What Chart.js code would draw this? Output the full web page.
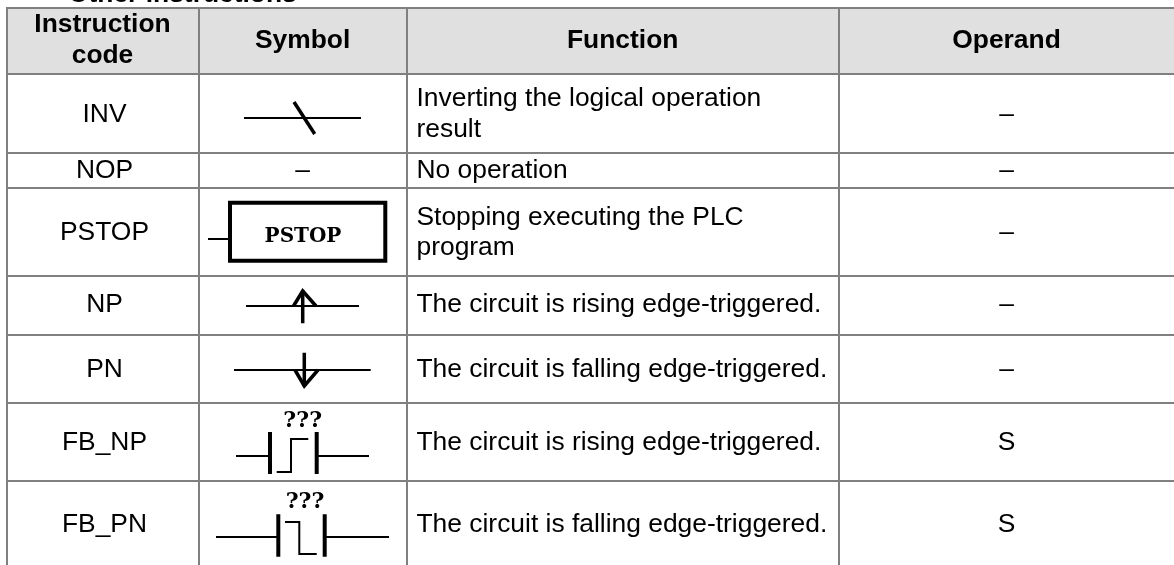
<!DOCTYPE html>
<html>
<head>
<meta charset="utf-8">
<title>Other instructions</title>
<script src="https://cdn.jsdelivr.net/npm/chart.js@4/dist/chart.umd.min.js"></script>
<style>
  html, body { margin: 0; background: #fff; }
  canvas { display: block; }
</style>
</head>
<body>
<canvas id="table" width="1174" height="565"></canvas>
<script>
// --- Table content ---
const title = 'Other instructions';
const headers = ['Instruction\ncode', 'Symbol', 'Function', 'Operand'];
const codes = ['INV', 'NOP', 'PSTOP', 'NP', 'PN', 'FB_NP', 'FB_PN'];
const functions = [
  'Inverting the logical operation\nresult',
  'No operation',
  'Stopping executing the PLC\nprogram',
  'The circuit is rising edge-triggered.',
  'The circuit is falling edge-triggered.',
  'The circuit is rising edge-triggered.',
  'The circuit is falling edge-triggered.'
];
const operands = ['–', '–', '–', '–', '–', 'S', 'S'];

// --- Axis ticks (table rules) ---
const columnEdges = [7, 198.5, 406.7, 838.7];
const rowEdges = [7.5, 73.5, 152.5, 187.5, 275.7, 334.7, 403, 481];

// --- Symbol strokes, in axis units ---
const invWire = [[244, 118], [361, 118]];
const invSlash = [[294, 102], [314.7, 134]];
const pstopLead = [[208, 239], [230, 239]];
const pstopBox = [[230, 202.7], [385.3, 202.7], [385.3, 260.7], [230, 260.7], [230, 202.7]];
const npWire = [[246, 306], [359, 306]];
const npShaft = [[302.7, 290], [302.7, 323.3]];
const npHead = [[293.5, 306], [302.7, 291], [316, 306]];
const pnWire = [[234, 370], [370.7, 370]];
const pnShaft = [[304.3, 352.7], [304.3, 386.7]];
const pnHead = [[295, 370], [304.3, 386], [318, 370]];
const fbNpLeft = [[236, 456], [270, 456]];
const fbNpBarL = [[270, 432], [270, 474]];
const fbNpBarR = [[316.7, 432], [316.7, 474]];
const fbNpRight = [[316.7, 456], [369, 456]];
const fbNpStep = [[276.7, 472], [291, 472], [291, 439], [308.3, 439]];
const fbPnLeft = [[216, 537], [278.3, 537]];
const fbPnBarL = [[278.3, 514.3], [278.3, 556.7]];
const fbPnBarR = [[324.7, 514.3], [324.7, 556.7]];
const fbPnRight = [[324.7, 537], [389, 537]];
const fbPnStep = [[285, 522], [299.3, 522], [299.3, 554], [316.7, 554]];

const thinStrokes = [invWire, pstopLead, npWire, pnWire, fbNpLeft, fbNpRight, fbPnLeft, fbPnRight, fbNpStep, fbPnStep];
const midStrokes = [invSlash, npShaft, npHead, pnShaft, pnHead];
const thickStrokes = [fbNpBarL, fbNpBarR, fbPnBarL, fbPnBarR];

function strokeDataset(points, width, cap) {
  return {
    data: points.map(p => ({ x: p[0], y: p[1] })),
    showLine: true,
    borderColor: '#000',
    borderWidth: width,
    borderCapStyle: cap || 'butt',
    pointRadius: 0,
    tension: 0,
    clip: false
  };
}

const SANS = '"Liberation Sans", Arial, sans-serif';
const SIZE = 26.4;
const LINE = 30.7;
const ROW_BASE = [121.7, 178.3, 240, 312.3, 376.5, 450, 531.7];
const COL_MID = [102.5, 302.6, 622.7, 1006.5];

// --- Cell text and header fill ---
const tablePlugin = {
  id: 'tablePlugin',
  beforeDraw(chart) {
    const { ctx, scales: { x, y } } = chart;
    ctx.save();
    ctx.fillStyle = '#e0e0e0';
    ctx.fillRect(x.left, y.getPixelForValue(rowEdges[0]), x.right - x.left,
      y.getPixelForValue(rowEdges[1]) - y.getPixelForValue(rowEdges[0]));
    ctx.restore();
  },
  afterDatasetsDraw(chart) {
    const { ctx, scales: { x, y } } = chart;
    const put = (text, vx, vy, align, font) => {
      ctx.font = font;
      ctx.textAlign = align;
      ctx.textBaseline = 'alphabetic';
      ctx.fillStyle = '#000';
      ctx.fillText(text, x.getPixelForValue(vx), y.getPixelForValue(vy));
    };
    ctx.save();
    const regular = SIZE + 'px ' + SANS;
    const bold = 'bold ' + SIZE + 'px ' + SANS;

    put(title, 68, 2, 'left', bold);

    headers.forEach((h, i) => {
      const lines = h.split('\n');
      const base = lines.length > 1 ? 32.3 : 47.7;
      lines.forEach((l, k) => put(l, COL_MID[i], base + k * LINE, 'center', bold));
    });

    codes.forEach((c, i) => put(c, 104.5, ROW_BASE[i], 'center', regular));
    put('–', COL_MID[1], ROW_BASE[1], 'center', regular);

    functions.forEach((f, i) => {
      const lines = f.split('\n');
      const base = lines.length > 1 ? ROW_BASE[i] - 15.5 : ROW_BASE[i];
      lines.forEach((l, k) => put(l, 416.5, base + k * LINE, 'left', regular));
    });

    operands.forEach((o, i) => put(o, COL_MID[3], ROW_BASE[i], 'center', regular));

    put('PSTOP', 303, 241.5, 'center', 'bold 20px "DejaVu Serif", serif');
    const marks = 'bold 22px "DejaVu Serif", serif';
    put('???', 302.7, 426.7, 'center', marks);
    put('???', 305, 508.3, 'center', marks);
    ctx.restore();
  }
};

new Chart(document.getElementById('table').getContext('2d'), {
  type: 'scatter',
  data: {
    datasets: [
      ...thinStrokes.map(s => strokeDataset(s, 2)),
      ...midStrokes.map(s => strokeDataset(s, 3.5)),
      ...thickStrokes.map(s => strokeDataset(s, 4)),
      strokeDataset(pstopBox, 4, 'square')
    ]
  },
  plugins: [tablePlugin],
  options: {
    responsive: false,
    animation: false,
    layout: { padding: { left: 7, top: 7, right: 0, bottom: 0 } },
    plugins: { legend: { display: false }, tooltip: { enabled: false } },
    scales: {
      x: {
        type: 'linear',
        min: 7,
        max: 1174,
        afterBuildTicks(scale) { scale.ticks = columnEdges.map(v => ({ value: v })); },
        ticks: { display: false },
        border: { display: false },
        grid: { color: '#808080', lineWidth: 2, drawTicks: false }
      },
      y: {
        type: 'linear',
        reverse: true,
        min: 7,
        max: 565,
        afterBuildTicks(scale) { scale.ticks = rowEdges.map(v => ({ value: v })); },
        ticks: { display: false },
        border: { display: false },
        grid: { color: '#808080', lineWidth: 2, drawTicks: false }
      }
    }
  }
});
</script>
</body>
</html>
